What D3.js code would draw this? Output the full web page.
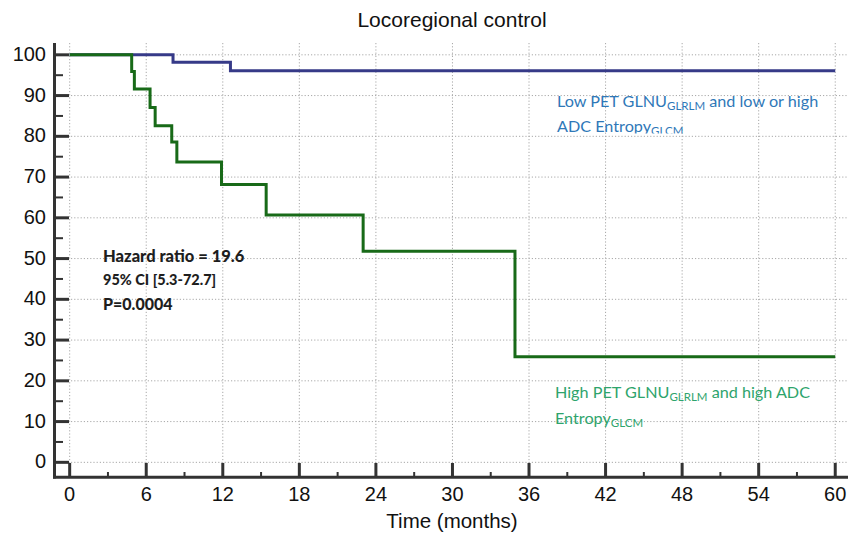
<!DOCTYPE html>
<html>
<head>
<meta charset="utf-8">
<script src="https://cdn.jsdelivr.net/npm/d3@7"></script>
<style>
  body { margin: 0; background: #fff; }
  svg { display: block; }
</style>
</head>
<body>
<svg id="chart" width="853" height="541"></svg>
<script>
'use strict';

// tick values
var xTicks = [0, 6, 12, 18, 24, 30, 36, 42, 48, 54, 60];
var xMinorTicks = [3, 9, 15, 21, 27, 33, 39, 45, 51, 57];
var yTicks = [0, 10, 20, 30, 40, 50, 60, 70, 80, 90, 100];
var yMinorTicks = [5, 15, 25, 35, 45, 55, 65, 75, 85, 95];

// Kaplan-Meier steps (months, % event free)
var lowTimes = [0, 8.1, 12.6, 60];
var lowSurvival = [100, 98.2, 96.1, 96.1];
var highTimes = [0, 4.86, 5.07, 6.3, 6.7, 8.0, 8.4, 11.9, 15.4, 23.0, 34.9, 60];
var highSurvival = [100, 95.9, 91.6, 87.1, 82.6, 78.6, 73.7, 68.2, 60.7, 51.8, 25.9, 25.9];

var statsLines = ['Hazard ratio = 19.6', '95% CI [5.3-72.7]', 'P=0.0004'];

var svg = d3.select('#chart');

var x = d3.scaleLinear().domain([-1.15, 61]).range([55, 848]);
var y = d3.scaleLinear().domain([-3.6, 102.9]).range([477, 43]);

var axisColor = '#333';
var gridColor = '#a8a8a8';

/* grid */
var grid = svg.append('g');
grid.selectAll('line.vgrid')
    .data(xTicks)
    .enter().append('line')
    .attr('x1', function (d) { return x(d); })
    .attr('x2', function (d) { return x(d); })
    .attr('y1', y(102.9))
    .attr('y2', y(-3.6))
    .attr('stroke', gridColor)
    .attr('stroke-width', 1)
    .attr('stroke-dasharray', '1.2,2');
grid.selectAll('line.hgrid')
    .data(yTicks)
    .enter().append('line')
    .attr('x1', x(-1.15))
    .attr('x2', x(61))
    .attr('y1', function (d) { return y(d); })
    .attr('y2', function (d) { return y(d); })
    .attr('stroke', gridColor)
    .attr('stroke-width', 1)
    .attr('stroke-dasharray', '1.2,2');

/* curves */
function stepLine(times, vals) {
    var pts = times.map(function (t, i) { return [t, vals[i]]; });
    return d3.line()
        .x(function (d) { return x(d[0]); })
        .y(function (d) { return y(d[1]); })
        .curve(d3.curveStepAfter)(pts);
}

svg.append('path')
    .attr('d', stepLine(lowTimes, lowSurvival))
    .attr('fill', 'none')
    .attr('stroke', '#363a88')
    .attr('stroke-width', 3);

svg.append('path')
    .attr('d', stepLine(highTimes, highSurvival))
    .attr('fill', 'none')
    .attr('stroke', '#186a18')
    .attr('stroke-width', 3);

/* axes */
var axes = svg.append('g');
axes.append('line')
    .attr('x1', 54.5).attr('x2', 54.5)
    .attr('y1', y(102.9)).attr('y2', 478.5)
    .attr('stroke', axisColor).attr('stroke-width', 3);
axes.append('line')
    .attr('x1', 53).attr('x2', x(61))
    .attr('y1', 477.3).attr('y2', 477.3)
    .attr('stroke', axisColor).attr('stroke-width', 3);

// y ticks
axes.selectAll('line.ymaj')
    .data(yTicks)
    .enter().append('line')
    .attr('x1', 55).attr('x2', 69)
    .attr('y1', function (d) { return y(d); })
    .attr('y2', function (d) { return y(d); })
    .attr('stroke', axisColor).attr('stroke-width', 3);
axes.selectAll('line.ymin')
    .data(yMinorTicks)
    .enter().append('line')
    .attr('x1', 55).attr('x2', 63)
    .attr('y1', function (d) { return y(d); })
    .attr('y2', function (d) { return y(d); })
    .attr('stroke', axisColor).attr('stroke-width', 2);

// x ticks
axes.selectAll('line.xmaj')
    .data(xTicks)
    .enter().append('line')
    .attr('x1', function (d) { return x(d); })
    .attr('x2', function (d) { return x(d); })
    .attr('y1', 477).attr('y2', 463)
    .attr('stroke', axisColor).attr('stroke-width', 3);
axes.selectAll('line.xmin')
    .data(xMinorTicks)
    .enter().append('line')
    .attr('x1', function (d) { return x(d); })
    .attr('x2', function (d) { return x(d); })
    .attr('y1', 477).attr('y2', 472)
    .attr('stroke', axisColor).attr('stroke-width', 2);

var font = 'Liberation Sans, Arial, sans-serif';

axes.selectAll('text.ylab')
    .data(yTicks)
    .enter().append('text')
    .attr('x', 46)
    .attr('y', function (d) { return y(d); })
    .attr('dy', '0.3em')
    .attr('text-anchor', 'end')
    .attr('font-family', font)
    .attr('font-size', 20)
    .attr('fill', '#111')
    .text(function (d) { return d; });

axes.selectAll('text.xlab')
    .data(xTicks)
    .enter().append('text')
    .attr('x', function (d) { return x(d); })
    .attr('y', 501)
    .attr('text-anchor', 'middle')
    .attr('font-family', font)
    .attr('font-size', 20)
    .attr('fill', '#111')
    .text(function (d) { return d; });

svg.append('text')
    .attr('x', 452).attr('y', 528)
    .attr('text-anchor', 'middle')
    .attr('font-family', font)
    .attr('font-size', 20.5)
    .attr('fill', '#111')
    .text('Time (months)');

svg.append('text')
    .attr('x', 452).attr('y', 27)
    .attr('text-anchor', 'middle')
    .attr('font-family', font)
    .attr('font-size', 21)
    .attr('fill', '#111')
    .text('Locoregional control');

/* stats box */
var calib = 'Lato, "Open Sans", sans-serif';
svg.selectAll('text.stat')
    .data(statsLines)
    .enter().append('text')
    .attr('x', 103)
    .attr('y', function (d, i) { return [261.7, 285, 310][i]; })
    .attr('font-family', calib)
    .attr('font-weight', 900)
    .attr('font-size', function (d, i) { return [16.5, 14.5, 16][i]; })
    .attr('fill', '#1e1e1e')
    .text(function (d) { return d; });

/* group labels */
function groupLabel(xp, yp, parts, color, clipId) {
    var t = svg.append('text')
        .attr('x', xp).attr('y', yp)
        .attr('font-family', calib)
        .attr('font-size', 16.2)
        .attr('fill', color);
    if (clipId) {
        t.attr('clip-path', 'url(#' + clipId + ')');
    }
    parts.forEach(function (p) {
        var s = t.append('tspan').text(p[0]);
        if (p[1]) {
            s.attr('font-size', 11.5).attr('dy', 3);
        } else if (p[2]) {
            s.attr('dy', -3);
        }
    });
    return t;
}

svg.append('defs').append('clipPath')
    .attr('id', 'lowclip')
    .append('rect')
    .attr('x', 540).attr('y', 80).attr('width', 300).attr('height', 53.5);

var blueText = '#2f78b8';
var greenText = '#2ea46c';

groupLabel(557, 106.7, [['Low PET GLNU'], ['GLRLM', true], [' and low or high', false, true]], blueText, 'lowclip');
groupLabel(557, 131.7, [['ADC Entropy'], ['GLCM', true]], blueText, 'lowclip');

groupLabel(555, 397.7, [['High PET GLNU'], ['GLRLM', true], [' and high ADC', false, true]], greenText);
groupLabel(555, 424.3, [['Entropy'], ['GLCM', true]], greenText);
</script>
</body>
</html>
